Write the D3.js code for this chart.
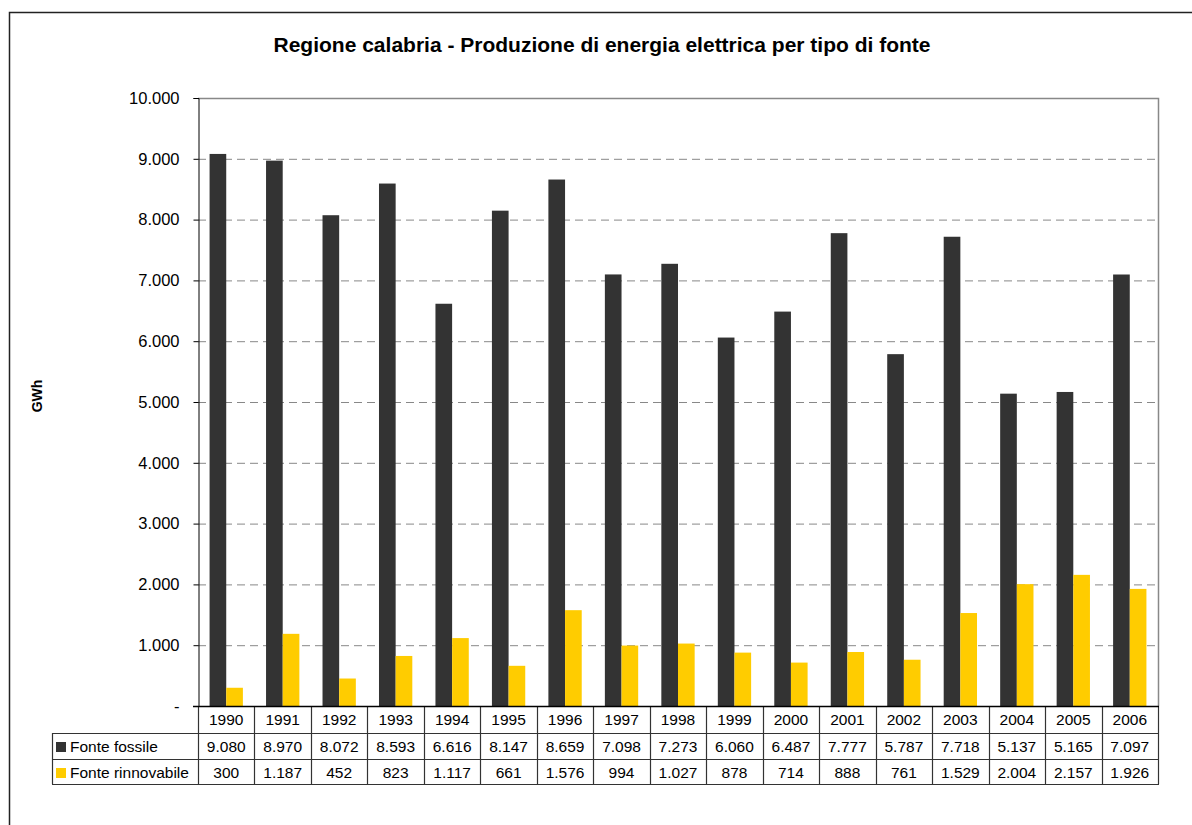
<!DOCTYPE html>
<html><head><meta charset="utf-8">
<script src="https://cdn.jsdelivr.net/npm/d3@7"></script>
<style>body{margin:0;background:#fff}svg{display:block;font-family:"Liberation Sans",Arial,sans-serif}</style>
</head><body><svg id="c" width="1192" height="825"></svg>
<script>
const years = ["1990","1991","1992","1993","1994","1995","1996","1997","1998","1999","2000","2001","2002","2003","2004","2005","2006"];
const fossile = [9080,8970,8072,8593,6616,8147,8659,7098,7273,6060,6487,7777,5787,7718,5137,5165,7097];
const rinnovabile = [300,1187,452,823,1117,661,1576,994,1027,878,714,888,761,1529,2004,2157,1926];
const seriesNames = ["Fonte fossile","Fonte rinnovabile"];
const seriesColors = ["#333333","#FFCC00"];
const yTicks = [0,1000,2000,3000,4000,5000,6000,7000,8000,9000,10000];
const title = "Regione calabria - Produzione di energia elettrica per tipo di fonte";
const yLabel = "GWh";

const fmt = v => v === 0 ? "-" : d3.format(",")(v).replace(/,/g, ".");
const svg = d3.select("#c");
const L = 198, R = 1158, T = 98, B = 706;
const x = d3.scaleBand().domain(years).range([L, R]);
const y = d3.scaleLinear().domain([0, 10000]).range([B, T]);
const bw = x.bandwidth() * 0.295;
const FS = 15.5;

// outer frame
svg.append("rect").attr("x", 9.5).attr("y", 12.5).attr("width", 1200).attr("height", 900)
  .attr("fill", "none").attr("stroke", "#222").attr("stroke-width", 1.5);

svg.append("text").attr("x", 602).attr("y", 52).attr("text-anchor", "middle")
  .attr("font-size", 21).attr("font-weight", "bold").text(title);

// gridlines
svg.append("g").selectAll("line").data(yTicks.filter(t => t > 0 && t < 10000)).join("line")
  .attr("x1", L).attr("x2", R).attr("y1", d => y(d) + 0.5).attr("y2", d => y(d) + 0.5)
  .attr("stroke", "#888").attr("stroke-dasharray", "8,5");
// plot border (top and right)
svg.append("path").attr("d", `M${L},${T + 0.5}H${R + 0.5}V${B}`).attr("fill", "none").attr("stroke", "#888").attr("stroke-width", 1.5);

// bars
const xs = [fossile, rinnovabile];
xs.forEach((vals, si) => {
  svg.append("g").selectAll("rect").data(vals).join("rect")
    .attr("x", (d, i) => x(years[i]) + x.bandwidth() / 2 - bw + si * bw)
    .attr("y", d => y(d)).attr("width", bw).attr("height", d => B - y(d))
    .attr("fill", seriesColors[si]);
});

// y axis
const ya = d3.axisLeft(y).tickValues(yTicks).tickFormat(fmt).tickSize(5).tickPadding(14);
const gy = svg.append("g").attr("transform", `translate(${L + 0.5},0)`).call(ya);
gy.select(".domain").attr("stroke", "#000");
gy.selectAll(".tick line").attr("stroke", "#000");
gy.selectAll("text").attr("font-size", 16.5).attr("fill", "#000").attr("font-family", "Liberation Sans, Arial, sans-serif");

svg.append("text").attr("transform", "translate(42,396) rotate(-90)").attr("text-anchor", "middle")
  .attr("font-size", 14).attr("font-weight", "bold").text(yLabel);

// data table
const r0 = B, r1 = 733, r2 = 759, r3 = 784, TL = 52;
const tg = svg.append("g").attr("stroke", "#333").attr("stroke-width", 1.2);
// x axis line
svg.append("line").attr("x1", L - 5).attr("x2", R + 1).attr("y1", B + 0.5).attr("y2", B + 0.5).attr("stroke", "#000").attr("stroke-width", 1.5);
[r1, r2, r3].forEach(r => tg.append("line").attr("x1", TL).attr("x2", R + 1).attr("y1", r + 0.5).attr("y2", r + 0.5));
// vertical lines
const vx = years.map(d => x(d)).concat([R]);
tg.selectAll("line.v").data(vx).join("line").attr("class", "v")
  .attr("x1", d => Math.round(d) + 0.5).attr("x2", d => Math.round(d) + 0.5).attr("y1", r0).attr("y2", r3);
tg.append("line").attr("x1", TL + 0.5).attr("x2", TL + 0.5).attr("y1", r1).attr("y2", r3);

const cellText = (row, yy) => svg.append("g").selectAll("text").data(row).join("text")
  .attr("x", (d, i) => x(years[i]) + x.bandwidth() / 2).attr("y", yy)
  .attr("text-anchor", "middle").attr("font-size", FS).text(d => d);
cellText(years, r0 + 19);
cellText(fossile.map(fmt), r1 + 19);
cellText(rinnovabile.map(fmt), r2 + 19);

seriesNames.forEach((n, i) => {
  const ry = [r1, r2][i];
  svg.append("rect").attr("x", 56).attr("y", ry + 9).attr("width", 10).attr("height", 10).attr("fill", seriesColors[i]);
  svg.append("text").attr("x", 70).attr("y", ry + 19).attr("font-size", FS).text(n);
});
</script></body></html>
